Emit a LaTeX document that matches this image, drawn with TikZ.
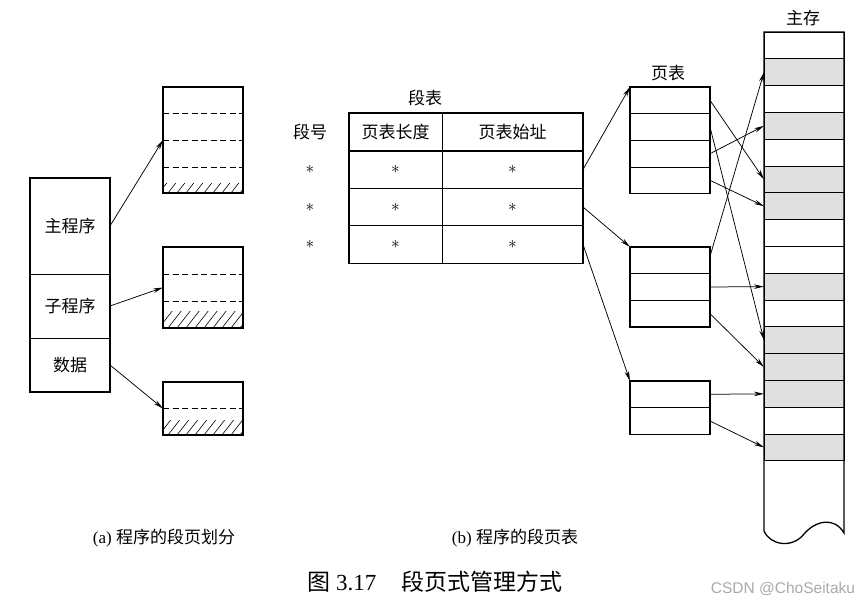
\documentclass[tikz,border=0pt]{standalone}
\usepackage{fontspec}
\setmainfont{Liberation Serif}
\newfontfamily\cjk{Noto Sans CJK SC}
\newfontfamily\wmfont{Liberation Sans}
\usepackage{xcolor}
\usepackage{tikz}
\usetikzlibrary{arrows.meta}
\definecolor{pageshade}{RGB}{224,224,224}
\definecolor{wmgray}{RGB}{170,170,170}

\tikzset{
  cell/.style={draw, line width=0.8pt, minimum width=80pt, inner sep=0pt, outer sep=0pt},
  frame/.style={line width=1.3pt},
  divline/.style={line width=0.9pt, dash pattern=on 6pt off 3.5pt},
  lbl/.style={font=\cjk\fontsize{17}{20}\selectfont},
  ptr/.style={-{Stealth[length=10pt,width=4.5pt]}, line width=0.75pt},
  star/.style={font=\fontsize{17}{20}\selectfont}
}

\newcommand{\hatchstrip}[2]{%
  \begin{scope}
    \clip (163,#1) rectangle (243,#2);
    \foreach \hx in {150,159,...,250}
      \draw[line width=0.6pt] (\hx,#2) -- ++(14,-18);
  \end{scope}}

\begin{document}
\begin{tikzpicture}[x=1pt, y=-1pt]

\useasboundingbox (0,0) rectangle (858,605);
\fill[white] (0,0) rectangle (858,605);

\node[cell, minimum height=96pt, lbl] (main) at (70,226) {主程序};
\node[cell, minimum height=64pt, lbl] (sub) at (70,306) {子程序};
\node[cell, minimum height=54pt, lbl] (data) at (70,365) {数据};
\draw[frame] (main.north west) rectangle (data.south east);

\node[cell, minimum height=106pt] (pg1) at (203,140) {};
\foreach \y in {113,140,167} \draw[divline] (163,\y) -- (243,\y);
\hatchstrip{183}{193}
\draw[frame] (pg1.north west) rectangle (pg1.south east);

\node[cell, minimum height=81pt] (pg2) at (203,287.5) {};
\foreach \y in {274,301} \draw[divline] (163,\y) -- (243,\y);
\hatchstrip{311}{328}
\draw[frame] (pg2.north west) rectangle (pg2.south east);

\node[cell, minimum height=53pt] (pg3) at (203,408.5) {};
\draw[divline] (163,408) -- (243,408);
\hatchstrip{420}{435}
\draw[frame] (pg3.north west) rectangle (pg3.south east);

\draw[ptr] (main.east) -- (pg1.west);
\draw[ptr] (sub.east) -- (pg2.west);
\draw[ptr] (data.east) -- (pg3.west);

\node[lbl] (segtitle) at (425,98) {段表};
\node[lbl] (segno) at (310,132) {段号};
\node[cell, minimum width=234pt, minimum height=38pt] (hd) at (466,132) {};
\node[cell, minimum width=234pt, minimum height=37.5pt] (sr1) at (466,169.5) {};
\node[cell, minimum width=234pt, minimum height=37.5pt] (sr2) at (466,207) {};
\node[cell, minimum width=234pt, minimum height=37.5pt] (sr3) at (466,244.5) {};
\draw[line width=0.8pt] (442,113) -- (442,263);
\draw[frame] (hd.north west) rectangle (sr3.south east);
\node[lbl] (hlen) at (395.5,132) {页表长度};
\node[lbl] (hbase) at (512.5,132) {页表始址};
\foreach \y [count=\i] in {169.5,207,244.5} {
  \node[star] (no\i) at (310,\y) {$*$};
  \node[star] (len\i) at (395.5,\y) {$*$};
  \node[star] (base\i) at (512.5,\y) {$*$};
}

\node[lbl] (pttitle) at (668,73) {页表};
\foreach \y [count=\i] in {100.3,127,153.7,180.3}
  \node[cell, minimum height=26.7pt] (pa\i) at (670,\y) {};
\draw[frame] (pa1.north west) rectangle (pa4.south east);
\foreach \y [count=\i] in {260.3,287,313.7}
  \node[cell, minimum height=26.7pt] (pb\i) at (670,\y) {};
\draw[frame] (pb1.north west) rectangle (pb3.south east);
\foreach \y [count=\i] in {394.3,421}
  \node[cell, minimum height=26.7pt] (pc\i) at (670,\y) {};
\draw[frame] (pc1.north west) rectangle (pc2.south east);

\draw[ptr] (sr1.east) -- (pa1.north west);
\draw[ptr] (sr2.east) -- (pb1.north west);
\draw[ptr] (sr3.east) -- (pc1.north west);

\node[lbl] (memtitle) at (803,18) {主存};
\foreach \r in {1,3,5,6,9,11,12,13,15}
  \fill[pageshade] (764,{32+26.8*\r}) rectangle (844,{58.8+26.8*\r});
\foreach \r in {0,...,15}
  \node[cell, minimum height=26.8pt] (m\r) at (804,{45.4+26.8*\r}) {};
\draw[frame] (844,32) -- (764,32) -- (764,531)
  .. controls (770,545) and (792,549) .. (804,534)
  .. controls (815,521) and (834,516) .. (844,533) -- cycle;

\draw[ptr] (pa1.east) -- (m5.west);
\draw[ptr] (pa2.east) -- (m11.west);
\draw[ptr] (pa3.east) -- (m3.west);
\draw[ptr] (pa4.east) -- (m6.west);
\draw[ptr] ([yshift=4pt]pb1.east) -- (m1.west);
\draw[ptr] (pb2.east) -- (m9.west);
\draw[ptr] (pb3.east) -- (m12.west);
\draw[ptr] (pc1.east) -- (m13.west);
\draw[ptr] (pc2.east) -- (m15.west);

\node[font=\fontsize{17}{20}\selectfont] (capa) at (164,538) {(a) {\cjk 程序的段页划分}};
\node[font=\fontsize{17}{20}\selectfont] (capb) at (515,538) {(b) {\cjk 程序的段页表}};
\node[font=\fontsize{23}{26}\selectfont] (title) at (435,582) {{\cjk 图} 3.17\hspace{1.1em}{\cjk 段页式管理方式}};
\node[font=\wmfont\fontsize{15.5}{18}\selectfont, text=wmgray] (csdn) at (783,589) {CSDN @ChoSeitaku};

\end{tikzpicture}
\end{document}
